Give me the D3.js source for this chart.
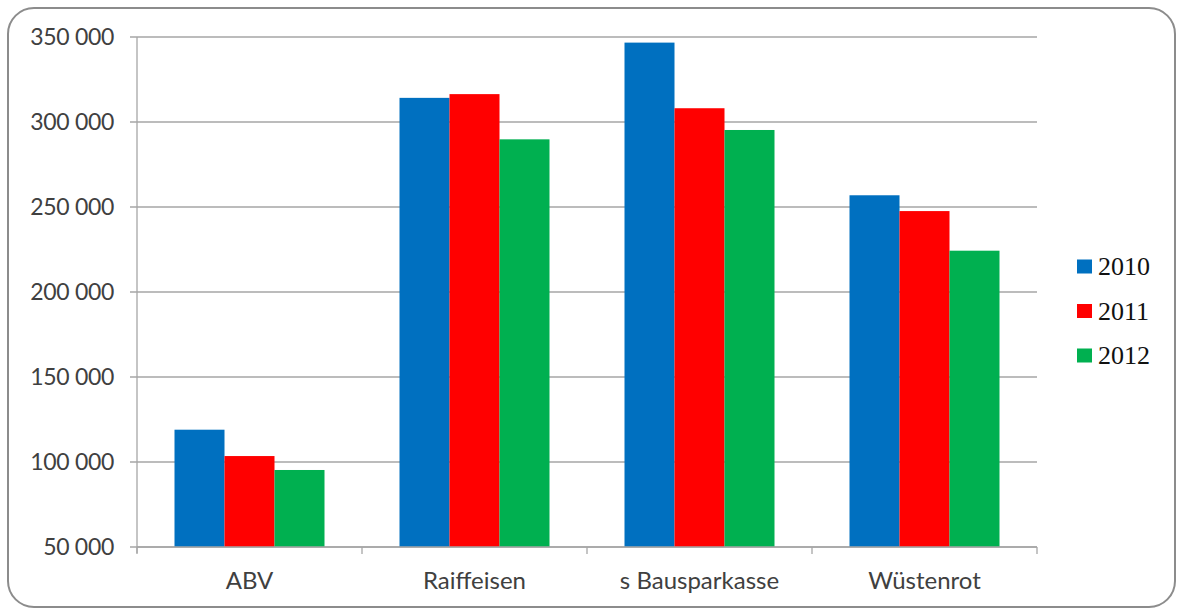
<!DOCTYPE html>
<html><head><meta charset="utf-8">
<script src="https://cdn.jsdelivr.net/npm/d3@7"></script>
<style>html,body{margin:0;padding:0;background:#fff;}</style>
</head><body>
<script>
const categories = ["ABV", "Raiffeisen", "s Bausparkasse", "Wüstenrot"];
const seriesNames = ["2010", "2011", "2012"];
const values2010 = [119000, 314200, 346700, 256900];
const values2011 = [103500, 316400, 308100, 247600];
const values2012 = [95300, 289800, 295300, 224300];
const yTicks = [50000, 100000, 150000, 200000, 250000, 300000, 350000];
const colors = ["#0070C0", "#FF0000", "#00B050"];

(function () {
const series = [values2010, values2011, values2012];
const W = 1178, H = 610;
const svg = d3.select("body").append("svg").attr("width", W).attr("height", H);

svg.append("rect").attr("x", 8).attr("y", 8).attr("width", 1167).attr("height", 599)
  .attr("rx", 26).attr("ry", 26).attr("fill", "#fff").attr("stroke", "#8c8c8c").attr("stroke-width", 2);

const pLeft = 137, pRight = 1037, pTop = 37, pBottom = 547;
const x0 = d3.scaleBand().domain(categories).range([pLeft, pRight]).paddingInner(1/3).paddingOuter(1/6);
const x1 = d3.scaleBand().domain(seriesNames).range([0, x0.bandwidth()]);
const y = d3.scaleLinear().domain([50000, 350000]).range([pBottom, pTop]);

const fmt = v => d3.format(",")(v).replace(/,/g, " ");

svg.append("g").selectAll("line").data(yTicks).join("line")
  .attr("x1", pLeft - 7).attr("x2", pRight).attr("y1", d => y(d)).attr("y2", d => y(d))
  .attr("stroke", "#a6a6a6").attr("stroke-width", 1.3);

svg.append("line").attr("x1", pLeft).attr("x2", pLeft).attr("y1", pTop).attr("y2", pBottom + 6)
  .attr("stroke", "#a6a6a6").attr("stroke-width", 1.3);

svg.append("g").selectAll("text").data(yTicks).join("text")
  .attr("x", 114).attr("y", d => y(d)).attr("dy", "0.36em").attr("text-anchor", "end")
  .attr("font-family", "Lato, 'Open Sans', sans-serif").attr("font-size", 23).attr("fill", "#404040")
  .attr("letter-spacing", "-0.3")
  .text(fmt);

const g = svg.append("g");
categories.forEach((c, i) => {
  series.forEach((s, j) => {
    g.append("rect").attr("x", x0(c) + x1(seriesNames[j])).attr("width", x1.bandwidth())
      .attr("y", y(s[i])).attr("height", y(50000) - y(s[i])).attr("fill", colors[j]);
  });
});

svg.append("line").attr("x1", pLeft).attr("x2", pRight).attr("y1", pBottom).attr("y2", pBottom)
  .attr("stroke", "#a6a6a6").attr("stroke-width", 1.3);
const bounds = categories.map(c => x0(c) - x0.step() * x0.paddingInner() / 2).concat([pRight]);
svg.append("g").selectAll("line").data(bounds).join("line")
  .attr("x1", d => d).attr("x2", d => d).attr("y1", pBottom).attr("y2", pBottom + 7)
  .attr("stroke", "#a6a6a6").attr("stroke-width", 1.3);
svg.append("g").selectAll("text").data(categories).join("text")
  .attr("x", d => x0(d) + x0.bandwidth() / 2).attr("y", 580).attr("dy", "0.36em").attr("text-anchor", "middle")
  .attr("font-family", "Lato, 'Open Sans', sans-serif").attr("font-size", 24).attr("fill", "#404040")
  .text(d => d);

const leg = svg.append("g").selectAll("g").data(seriesNames).join("g")
  .attr("transform", (d, i) => `translate(1077, ${266.5 + i * 44.5})`);
leg.append("rect").attr("x", 0).attr("y", -7).attr("width", 15).attr("height", 14)
  .attr("fill", (d, i) => colors[i]);
leg.append("text").attr("x", 21).attr("y", 0).attr("dy", "0.34em")
  .attr("font-family", "'Liberation Serif', serif").attr("font-size", 26).attr("fill", "#111")
  .text(d => d);
})();
</script>
</body></html>
